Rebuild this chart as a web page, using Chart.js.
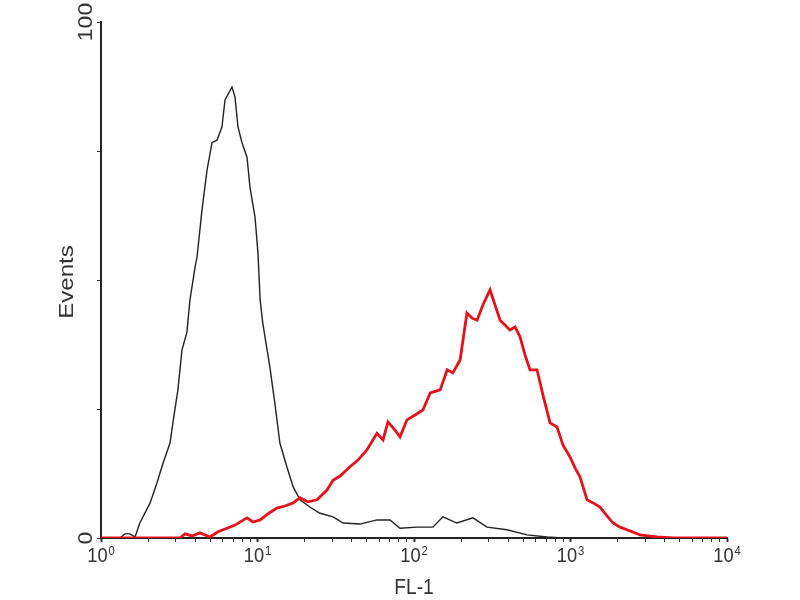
<!DOCTYPE html>
<html>
<head>
<meta charset="utf-8">
<script src="https://cdn.jsdelivr.net/npm/chart.js@4"></script>
<style>
  html, body { margin: 0; padding: 0; background: #fff; }
  #wrap { width: 800px; height: 600px; }
</style>
</head>
<body>
<div id="wrap"><canvas id="histCanvas" width="800" height="600"></canvas></div>
<script>
// FL-1 channel values (x) and event counts (y)
const controlFl1 = [1, 1.32, 1.42, 1.53, 1.65, 1.77, 2.06, 2.28, 2.49, 2.76, 2.88, 3.10, 3.29, 3.54, 3.70, 3.99, 4.11, 4.42, 4.76, 5.12, 5.51, 5.93, 6.20, 6.87, 7.18, 7.50, 7.96, 8.57, 8.95, 9.64, 10.07, 10.4, 10.8, 12.0, 12.9, 13.9, 15.4, 16.9, 18.7, 21.6, 25.1, 30.4, 35.2, 45.2, 58.0, 70.3, 81.4, 104.5, 132, 153, 188, 238, 293, 393, 527, 708, 896];
const controlEvents = [0, 0, 0.8, 0.8, 0.2, 2.9, 6.8, 10.7, 14.5, 18.4, 22.3, 28.7, 36.4, 39.9, 46.1, 52.5, 54.5, 63.6, 71.3, 76.6, 77.1, 79.7, 84.9, 87.4, 85.5, 79.7, 76.6, 73.8, 68.0, 62.2, 55.2, 46.1, 41.7, 33.1, 26.2, 18.4, 13.8, 9.9, 7.4, 6.0, 4.8, 4.1, 2.9, 2.7, 3.5, 3.5, 1.9, 2.1, 2.1, 4.1, 2.9, 3.9, 2.1, 1.6, 0.6, 0.2, 0];

const stainedFl1 = [1, 3.20, 3.44, 3.81, 4.29, 4.97, 5.59, 6.38, 7.18, 8.57, 9.35, 10.4, 11.7, 13.3, 15.0, 16.9, 18.7, 21.0, 24.0, 27.8, 30.4, 33.7, 39.0, 43.9, 50.1, 58.0, 63.4, 68.2, 75.6, 81.4, 90.2, 101, 114, 127, 147, 163, 177, 197, 218, 235, 253, 276, 306, 329, 355, 381, 410, 442, 476, 512, 551, 611, 667, 740, 820, 896, 993, 1069, 1151, 1275, 1393, 1543, 1711, 1870, 2072, 2296, 2780, 3570, 4520, 10000];
const stainedEvents = [0, 0, 0.8, 0.4, 1.0, 0.2, 1.2, 1.9, 2.5, 3.9, 3.1, 3.5, 4.7, 5.8, 6.2, 6.8, 7.8, 7.0, 7.4, 9.3, 11.2, 12.0, 13.8, 15.1, 17.1, 20.3, 19.0, 22.5, 20.9, 19.6, 22.9, 23.8, 24.8, 28.1, 28.7, 32.6, 32.0, 34.5, 43.6, 42.6, 42.2, 45.2, 48.1, 45.2, 42.2, 41.3, 40.3, 40.9, 39.0, 35.5, 32.6, 32.6, 27.7, 22.3, 21.5, 18.0, 15.7, 13.6, 11.8, 7.4, 6.8, 6.0, 4.3, 2.9, 2.1, 1.6, 0.6, 0.2, 0, 0];

const xDecades = [1, 10, 100, 1000, 10000];
const xDecadeExponents = ["0", "1", "2", "3", "4"];
const yTickValues = [0, 25, 50, 75, 100];
const yTickLabels = ["0", "", "", "", "100"];

const textColor = "#333";
const fontFamily = '"Liberation Sans", Arial, sans-serif';
const squeeze = 0.87; // the picture's text is narrower than it is tall

// minor ticks 1..9 within every decade, plus the last decade
const xTickValues = [];
xDecades.slice(0, -1).forEach((d) => {
    for (let i = 1; i < 10; i++) xTickValues.push(d * i);
});
xTickValues.push(xDecades[xDecades.length - 1]);

const toPoints = (xs, ys) => xs.map((v, i) => ({ x: v, y: ys[i] }));

function drawText(ctx, text, x, y, size, vertical) {
    ctx.save();
    ctx.translate(x, y);
    ctx.scale(squeeze, 1);
    if (vertical) ctx.rotate(-Math.PI / 2);
    ctx.font = size + "px " + fontFamily;
    ctx.textAlign = "center";
    ctx.textBaseline = "middle";
    ctx.fillText(text, 0, 0);
    ctx.restore();
}

const axisText = {
    id: "axisText",
    afterDraw(chart) {
        const { ctx, scales: { x, y } } = chart;
        ctx.save();
        ctx.fillStyle = textColor;

        yTickValues.forEach((v, i) => {
            if (!yTickLabels[i]) return;
            drawText(ctx, yTickLabels[i], y.right - 15, y.getPixelForValue(v), 23, true);
        });

        // decade labels: "10" with a raised exponent
        xDecades.forEach((v, i) => {
            const px = x.getPixelForValue(v);
            ctx.save();
            ctx.translate(px, 556);
            ctx.scale(squeeze, 1);
            ctx.font = "21px " + fontFamily;
            const baseW = ctx.measureText("10").width;
            ctx.font = "13px " + fontFamily;
            const expW = ctx.measureText(xDecadeExponents[i]).width;
            const start = -(baseW + 1 + expW) / 2;
            ctx.textAlign = "left";
            ctx.textBaseline = "middle";
            ctx.font = "21px " + fontFamily;
            ctx.fillText("10", start, 0);
            ctx.font = "13px " + fontFamily;
            ctx.fillText(xDecadeExponents[i], start + baseW + 1, -5);
            ctx.restore();
        });

        drawText(ctx, "Events", 67, 282, 24, true);
        drawText(ctx, "FL-1", (x.left + x.right) / 2, 588, 22, false);
        ctx.restore();
    }
};

new Chart(document.getElementById("histCanvas"), {
    type: "line",
    data: {
        datasets: [
            {
                label: "Stained",
                data: toPoints(stainedFl1, stainedEvents),
                borderColor: "#e3121b",
                borderWidth: 2.8,
                pointRadius: 0,
                tension: 0
            },
            {
                label: "Control",
                data: toPoints(controlFl1, controlEvents),
                borderColor: "#222",
                borderWidth: 1.4,
                pointRadius: 0,
                tension: 0
            }
        ]
    },
    options: {
        responsive: false,
        animation: false,
        layout: { padding: { top: 22, right: 73, left: 0, bottom: 0 } },
        plugins: {
            legend: { display: false },
            tooltip: { enabled: false }
        },
        scales: {
            x: {
                type: "logarithmic",
                min: 1,
                max: 10000,
                afterBuildTicks: (scale) => {
                    scale.ticks = xTickValues.map((v) => ({ value: v }));
                },
                afterFit: (scale) => { scale.height = 62; },
                ticks: {
                    autoSkip: false,
                    maxRotation: 0,
                    callback: () => ""
                },
                grid: {
                    drawOnChartArea: false,
                    drawTicks: true,
                    tickLength: 4,
                    tickColor: "#333",
                    tickWidth: (c) => (xDecades.includes(c.tick && c.tick.value) ? 2 : 1)
                },
                border: { color: "#222", width: 2 }
            },
            y: {
                min: 0,
                max: 100,
                afterBuildTicks: (scale) => {
                    scale.ticks = yTickValues.map((v) => ({ value: v }));
                },
                afterFit: (scale) => { scale.width = 101; },
                ticks: { display: false },
                grid: {
                    drawOnChartArea: false,
                    drawTicks: true,
                    tickLength: 4,
                    tickColor: "#333"
                },
                border: { color: "#222", width: 2 }
            }
        }
    },
    plugins: [axisText]
});
</script>
</body>
</html>
